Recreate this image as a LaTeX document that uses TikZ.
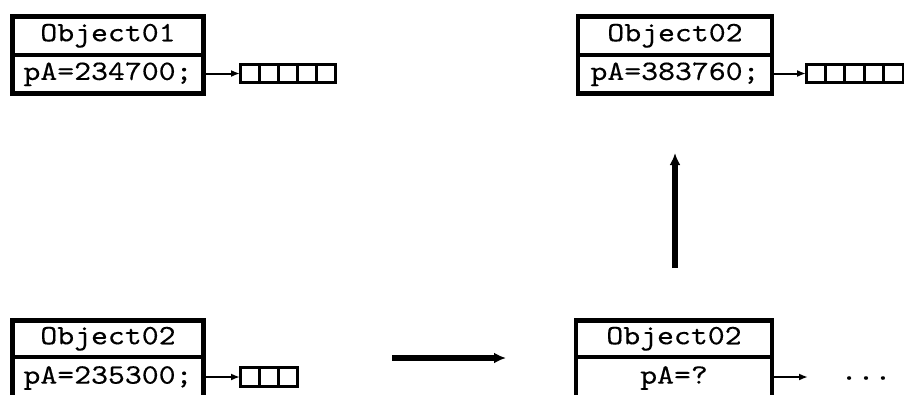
\documentclass[tikz,border=0pt]{standalone}
\usepackage{graphicx}
\usepackage{fontspec}
\usetikzlibrary{arrows.meta}
\newfontfamily\monofont{lmmono10-regular.otf}[FakeBold=0.3]
\newcommand{\mono}[1]{\scalebox{1.15}[1]{\fontsize{28}{30}\selectfont\monofont #1}}
\begin{document}
\begin{tikzpicture}[x=1pt,y=-1pt,
  cellrow/.style={draw,line width=4.5pt,minimum width=191pt,minimum height=38.5pt,
    inner sep=0pt,outer sep=0pt,anchor=north west},
  slot/.style={draw,line width=3pt,minimum width=19.4pt,minimum height=18.5pt,
    inner sep=0pt,outer sep=0pt,anchor=west},
  ptr/.style={line width=2pt,-{Latex[length=9pt,width=7pt]}},
  bigarrow/.style={line width=5.5pt,-{Latex[length=12pt,width=11pt]}}]
\useasboundingbox (0,0) rectangle (904,394);
\clip (0,0) rectangle (904,394);

% Object01, top left
\node[cellrow] (a1) at (12.5,16.5) {\mono{Object01}};
\node[cellrow] (a2) at (12.5,55) {\mono{pA=234700;}};
\foreach \i in {0,...,4} \node[slot,minimum width=19pt] (as\i) at (240+19*\i,73.5) {};
\draw[ptr] (a2.east |- as0.west) -- (as0.west);

% Object02, top right
\node[cellrow,minimum width=194pt] (b1) at (578,16.5) {\mono{Object02}};
\node[cellrow,minimum width=194pt] (b2) at (578,55) {\mono{pA=383760;}};
\foreach \i in {0,...,4} \node[slot] (bs\i) at (806+19.4*\i,73.5) {};
\draw[ptr] (b2.east |- bs0.west) -- (bs0.west);

% Object02, bottom left
\node[cellrow,minimum height=36.5pt] (c1) at (12.5,320.5) {\mono{Object02}};
\node[cellrow,minimum height=42pt] (c2) at (12.5,357) {\mono{pA=235300;}};
\foreach \i in {0,...,2} \node[slot,minimum width=19pt] (cs\i) at (240+19*\i,377) {};
\draw[ptr] (c2.east |- cs0.west) -- (cs0.west);

% Object02, bottom right
\node[cellrow,minimum width=196pt,minimum height=36.5pt] (d1) at (576,320.5) {\mono{Object02}};
\node[cellrow,minimum width=196pt,minimum height=42pt] (d2) at (576,357) {\mono{pA=?}};
\node (dots) at (866,378) {\mono{...}};
\coordinate (dtip) at (808,377);
\draw[ptr] (d2.east |- dtip) -- (dtip);

% transitions
\coordinate (h0) at (392,358);
\coordinate (h1) at (506,358);
\draw[bigarrow] (h0) -- (h1);
\coordinate (v0) at (675,268);
\coordinate (v1) at (675,153);
\draw[bigarrow] (v0) -- (v1);
\end{tikzpicture}
\end{document}
